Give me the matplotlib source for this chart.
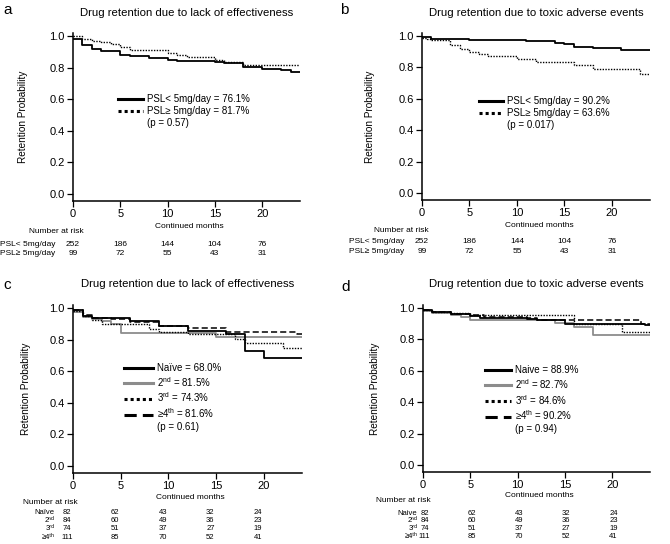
import matplotlib
matplotlib.use("Agg")
import matplotlib.pyplot as plt
from matplotlib.lines import Line2D

plt.rcParams['font.family'] = ['Liberation Sans', 'DejaVu Sans']
plt.rcParams['mathtext.fontset'] = 'custom'
plt.rcParams['mathtext.rm'] = 'Liberation Sans'
plt.rcParams['mathtext.it'] = 'Liberation Sans'

# ---------------- data ----------------
titles = ["Drug retention due to lack of effectiveness",
          "Drug retention due to toxic adverse events",
          "Drug retention due to lack of effectiveness",
          "Drug retention due to toxic adverse events"]
panel_letters = ["a", "b", "c", "d"]
risk_times = [0, 5, 10, 15, 20]

# Panel a
a_lt5_t = [0, 1, 2, 3, 5, 6, 8, 10, 11, 15, 16, 18, 20, 22, 23]
a_lt5_s = [0.979, 0.945, 0.916, 0.903, 0.882, 0.872, 0.861, 0.85, 0.842, 0.836, 0.83, 0.804, 0.794, 0.783, 0.773]
a_ge5_t = [0, 1, 2, 3, 4, 5, 6, 10, 11, 12, 15, 16, 18]
a_ge5_s = [1.0, 0.98, 0.97, 0.96, 0.95, 0.93, 0.914, 0.895, 0.88, 0.867, 0.85, 0.834, 0.819]
a_labels = ["PSL< 5mg/day = 76.1%", "PSL\u2265 5mg/day = 81.7%", "(p = 0.57)"]

# Panel b
b_lt5_t = [0, 1, 5, 11, 14, 15, 16, 18, 21]
b_lt5_s = [0.994, 0.98, 0.973, 0.966, 0.958, 0.949, 0.93, 0.924, 0.914]
b_ge5_t = [0, 0.5, 1, 3, 4, 5, 6, 7, 10, 12, 16, 18, 23]
b_ge5_s = [0.99, 0.979, 0.973, 0.941, 0.92, 0.899, 0.888, 0.874, 0.855, 0.838, 0.815, 0.789, 0.758]
b_labels = ["PSL< 5mg/day = 90.2%", "PSL\u2265 5mg/day = 63.6%", "(p = 0.017)"]

psl_rows = ["PSL< 5mg/day", "PSL\u2265 5mg/day"]
psl_risk = [[252, 186, 144, 104, 76], [99, 72, 55, 43, 31]]

# Panel c
c_naive_t = [0, 1, 2, 6, 9, 12, 16, 18, 20]
c_naive_s = [0.987, 0.952, 0.937, 0.916, 0.888, 0.857, 0.836, 0.726, 0.682]
c_2nd_t = [0, 1, 2, 3, 4, 5, 15]
c_2nd_s = [0.977, 0.945, 0.93, 0.92, 0.9, 0.84, 0.817]
c_3rd_t = [0, 1, 2, 3, 8, 9, 12, 17, 18, 22]
c_3rd_s = [0.98, 0.95, 0.924, 0.897, 0.867, 0.848, 0.836, 0.804, 0.777, 0.745]
c_4th_t = [0, 1, 2, 4, 6, 9, 12, 16, 23.5]
c_4th_s = [0.99, 0.955, 0.937, 0.93, 0.91, 0.888, 0.872, 0.851, 0.834]
c_labels = ["Na\u00efve = 68.0%", r"2$^{\rm nd}$ = 81.5%", r"3$^{\rm rd}$ = 74.3%",
            "\u22654$^{\\rm th}$ = 81.6%", "(p = 0.61)"]

# Panel d
d_naive_t = [0, 1, 3, 5, 6, 11, 12, 15, 23.5]
d_naive_s = [0.99, 0.975, 0.962, 0.951, 0.94, 0.93, 0.925, 0.9, 0.895]
d_2nd_t = [0, 1, 3, 4, 5, 14, 16, 18]
d_2nd_s = [0.98, 0.97, 0.958, 0.945, 0.925, 0.906, 0.878, 0.829]
d_3rd_t = [0, 1, 3, 5, 16, 21]
d_3rd_s = [0.99, 0.978, 0.968, 0.957, 0.898, 0.848]
d_4th_t = [0, 1, 3, 5, 6.5, 11, 12, 23]
d_4th_s = [0.99, 0.975, 0.965, 0.955, 0.945, 0.935, 0.925, 0.902]
d_labels = ["Naive = 88.9%", r"2$^{\rm nd}$ = 82.7%", r"3$^{\rm rd}$ = 84.6%",
            "\u22654$^{\\rm th}$ = 90.2%", "(p = 0.94)"]

line_rows_c = ["Na\u00efve", "2\u207f\u1d48", "3\u02b3\u1d48", "\u22654\u1d57\u02b0"]
line_rows_d = ["Naive", "2\u207f\u1d48", "3\u02b3\u1d48", "\u22654\u1d57\u02b0"]
line_risk = [[82, 62, 43, 32, 24], [84, 60, 49, 36, 23], [74, 51, 37, 27, 19], [111, 85, 70, 52, 41]]

# ---------------- styles ----------------
XMAX = 24
GRAY = "#8c8c8c"
st_solid = dict(color="black", lw=1.3, ls="-")
st_gray = dict(color=GRAY, lw=1.3, ls="-")
st_dot = dict(color="black", lw=1.0, ls=(0, (1, 1)))
st_dash = dict(color="black", lw=1.1, ls=(0, (4, 2)))

W, H = 670, 544
fig = plt.figure(figsize=(W / 100, H / 100), dpi=100)


def ax_at(l, r, t, b):
    return fig.add_axes([l / W, 1 - b / H, (r - l) / W, (b - t) / H])


def step(ax, t, s, st):
    ax.step(list(t) + [XMAX], list(s) + [s[-1]], where="post", **st)


def style_axes(ax, title, title_pad, ylab_x):
    ax.set_xlim(0, XMAX)
    ax.set_ylim(-0.045, 1.02)
    ax.set_xticks([0, 5, 10, 15, 20])
    ax.set_yticks([0.0, 0.2, 0.4, 0.6, 0.8, 1.0])
    ax.set_yticklabels(["0.0", "0.2", "0.4", "0.6", "0.8", "1.0"])
    for sp in ["top", "right"]:
        ax.spines[sp].set_visible(False)
    for sp in ["left", "bottom"]:
        ax.spines[sp].set_linewidth(1.1)
    ax.tick_params(direction="out", length=4, width=0.9, labelsize=8, pad=2)
    ax.set_title(title, fontsize=8.2, pad=title_pad)
    ax.set_ylabel("Retention Probability", fontsize=7.2)
    ax.yaxis.set_label_coords(ylab_x, 0.5)


def make_legend(ax, styles, labels, anchor, handlelen):
    handles = []
    for st in styles:
        h = dict(st)
        h["lw"] = 2.2
        handles.append(Line2D([], [], **h))
    handles.append(Line2D([], [], color="none"))
    ax.legend(handles, labels, loc="upper left", bbox_to_anchor=anchor,
              frameon=False, fontsize=7, handlelength=handlelen,
              handletextpad=0.4, labelspacing=0.2, borderpad=0, borderaxespad=0)


def risk_table(ax, rows, values, label_x, label_ha, row_y, head_x, head_y, xlab_y, num_dx, fs):
    tr = ax.get_xaxis_transform()
    ax.text(12.3, xlab_y, "Continued months", transform=tr, fontsize=6, ha="center", va="center")
    ax.text(head_x, head_y, "Number at risk", transform=tr, fontsize=6, ha="left", va="center")
    for name, vals, y in zip(rows, values, row_y):
        ax.text(label_x, y, name, transform=tr, fontsize=fs, ha=label_ha, va="center", clip_on=False)
        for t, v in zip(risk_times, vals):
            ax.text(t + num_dx, y, str(v), transform=tr, fontsize=fs, ha="center", va="center", clip_on=False)


# Panel a
axa = ax_at(73, 300, 33, 201)
step(axa, a_lt5_t, a_lt5_s, st_solid)
step(axa, a_ge5_t, a_ge5_s, st_dot)
style_axes(axa, titles[0], 12, -0.2)
make_legend(axa, [st_solid, st_dot], a_labels, (0.198, 0.635), 2.6)
risk_table(axa, psl_rows, psl_risk, -7.7, "left", [-0.256, -0.315], -4.7, -0.179, -0.149, 0.0, 6)

# Panel b
axb = ax_at(422, 650, 33, 200)
step(axb, b_lt5_t, b_lt5_s, st_solid)
step(axb, b_ge5_t, b_ge5_s, st_dot)
style_axes(axb, titles[1], 12, -0.206)
make_legend(axb, [st_solid, st_dot], b_labels, (0.25, 0.622), 2.5)
risk_table(axb, psl_rows, psl_risk, -7.7, "left", [-0.25, -0.31], -5.1, -0.18, -0.155, 0.0, 6)

# Panel c
axc = ax_at(73, 302, 305, 473)
step(axc, c_2nd_t, c_2nd_s, st_gray)
step(axc, c_3rd_t, c_3rd_s, st_dot)
step(axc, c_4th_t, c_4th_s, st_dash)
step(axc, c_naive_t, c_naive_s, st_solid)
style_axes(axc, titles[2], 13, -0.183)
make_legend(axc, [st_solid, st_gray, st_dot, st_dash], c_labels, (0.223, 0.655), 3.0)
risk_table(axc, line_rows_c, line_risk, -1.9, "right", [-0.236, -0.284, -0.332, -0.381],
           -5.2, -0.173, -0.143, -0.6, 5.5)

# Panel d
axd = ax_at(423, 650, 305, 472)
step(axd, d_2nd_t, d_2nd_s, st_gray)
step(axd, d_3rd_t, d_3rd_s, st_dot)
step(axd, d_4th_t, d_4th_s, st_dash)
step(axd, d_naive_t, d_naive_s, st_solid)
style_axes(axd, titles[3], 13, -0.19)
make_legend(axd, [st_solid, st_gray, st_dot, st_dash], d_labels, (0.273, 0.64), 2.7)
risk_table(axd, line_rows_d, line_risk, -0.6, "right", [-0.25, -0.293, -0.339, -0.389],
           -5.0, -0.173, -0.138, 0.15, 5.5)

# Panel letters
for (x, y), letter in zip([(3, 10), (340, 10), (3, 285), (341, 287)], panel_letters):
    fig.text(x / W, 1 - y / H, letter, fontsize=11, ha="left", va="center")

fig.savefig("out.png", dpi=100)
